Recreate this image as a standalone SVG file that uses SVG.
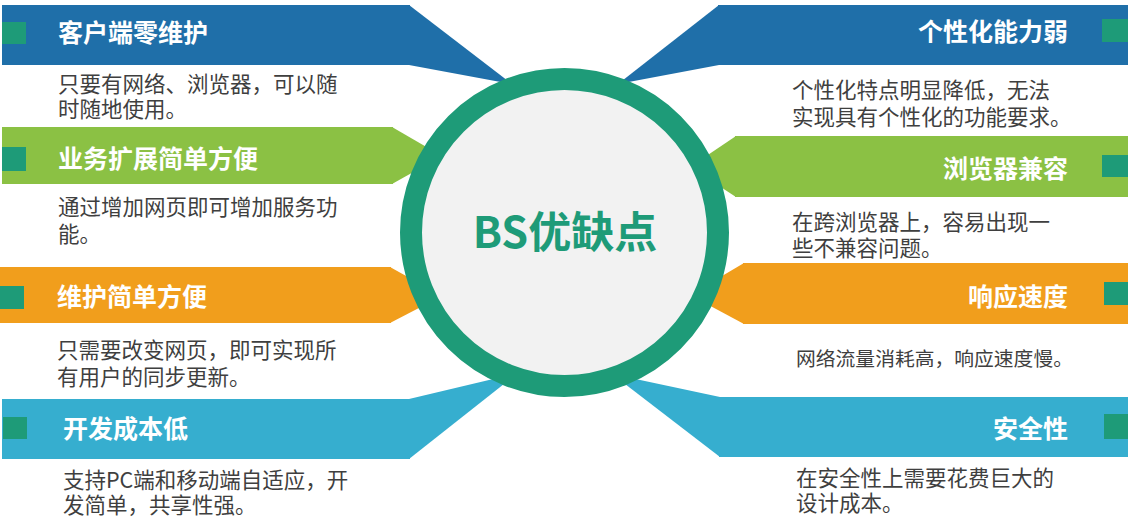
<svg xmlns="http://www.w3.org/2000/svg" width="1132" height="517" viewBox="0 0 1132 517">
<style>
.title{font-family:"Noto Sans CJK SC","Liberation Sans",sans-serif;font-weight:bold;font-size:25px;fill:#ffffff}
.desc{font-family:"Noto Sans CJK SC","Liberation Sans",sans-serif;font-size:21.5px;fill:#3f3f3f}
.sq{fill:#1e9b78}
.blue{fill:#1f6fa9}
.green{fill:#8bc144}
.orange{fill:#f19e1c}
.cyan{fill:#36aecf}
.r{text-anchor:end}
</style>
<rect width="1132" height="517" fill="#ffffff"/>
<g id="connectors">
<polygon class="blue" points="409,5 512,84 409,65"/>
<polygon class="green" points="392,127 442,156 392,184"/>
<polygon class="orange" points="390,267 442,296 390,323"/>
<polygon class="cyan" points="409,399 518,373 409,459"/>
<polygon class="blue" points="719,5 618,84 719,65"/>
<polygon class="green" points="736,136 690,167 736,197"/>
<polygon class="orange" points="744,263 690,295 744,324"/>
<polygon class="cyan" points="720,397 612,374 720,457"/>
</g>
<g id="n-left1">
<rect class="blue" x="2" y="5" width="408" height="60"/>
<rect class="sq" x="2" y="22" width="24" height="22"/>
<text class="title" x="58" y="42">客户端零维护</text>
<text class="desc" x="58" y="92">只要有网络、浏览器，可以随</text>
<text class="desc" x="58" y="117">时随地使用。</text>
</g>
<g id="n-left2">
<rect class="green" x="2" y="127" width="391" height="57"/>
<rect class="sq" x="2" y="147" width="24" height="24"/>
<text class="title" x="58" y="168">业务扩展简单方便</text>
<text class="desc" x="58" y="215">通过增加网页即可增加服务功</text>
<text class="desc" x="58" y="242">能。</text>
</g>
<g id="n-left3">
<rect class="orange" x="0" y="267" width="391" height="56"/>
<rect class="sq" x="0" y="286" width="24" height="23"/>
<text class="title" x="57" y="305.5">维护简单方便</text>
<text class="desc" x="57" y="358">只需要改变网页，即可实现所</text>
<text class="desc" x="57" y="385">有用户的同步更新。</text>
</g>
<g id="n-left4">
<rect class="cyan" x="2" y="399" width="408" height="60"/>
<rect class="sq" x="3" y="417" width="24" height="22"/>
<text class="title" x="63" y="438">开发成本低</text>
<text class="desc" x="63" y="488">支持PC端和移动端自适应，开</text>
<text class="desc" x="63" y="513">发简单，共享性强。</text>
</g>
<g id="n-right1">
<rect class="blue" x="718" y="5" width="410" height="60"/>
<rect class="sq" x="1102" y="19" width="26" height="23"/>
<text class="title r" x="1068" y="41">个性化能力弱</text>
<text class="desc" x="792" y="98">个性化特点明显降低，无法</text>
<text class="desc" x="792" y="125">实现具有个性化的功能要求。</text>
</g>
<g id="n-right2">
<rect class="green" x="735" y="136" width="393" height="61"/>
<rect class="sq" x="1102" y="155" width="26" height="22"/>
<text class="title r" x="1068" y="178">浏览器兼容</text>
<text class="desc" x="792" y="230">在跨浏览器上，容易出现一</text>
<text class="desc" x="792" y="256">些不兼容问题。</text>
</g>
<g id="n-right3">
<rect class="orange" x="743" y="263" width="385" height="61"/>
<rect class="sq" x="1104" y="282" width="24" height="23"/>
<text class="title r" x="1068" y="306">响应速度</text>
<text class="desc" x="796" y="365.5" style="font-size:19.8px">网络流量消耗高，响应速度慢。</text>
</g>
<g id="n-right4">
<rect class="cyan" x="719" y="397" width="409" height="60"/>
<rect class="sq" x="1104" y="414" width="24" height="25"/>
<text class="title r" x="1068" y="438">安全性</text>
<text class="desc" x="796" y="486">在安全性上需要花费巨大的</text>
<text class="desc" x="796" y="511">设计成本。</text>
</g>
<g id="n-center">
<circle cx="564.5" cy="232.5" r="153.5" fill="#f2f2f2" stroke="#1e9b78" stroke-width="22"/>
<text x="565" y="248" text-anchor="middle" font-family="'Noto Sans CJK SC','Liberation Sans',sans-serif" font-weight="bold" font-size="43" fill="#1e9b78">BS优缺点</text>
</g>
</svg>
